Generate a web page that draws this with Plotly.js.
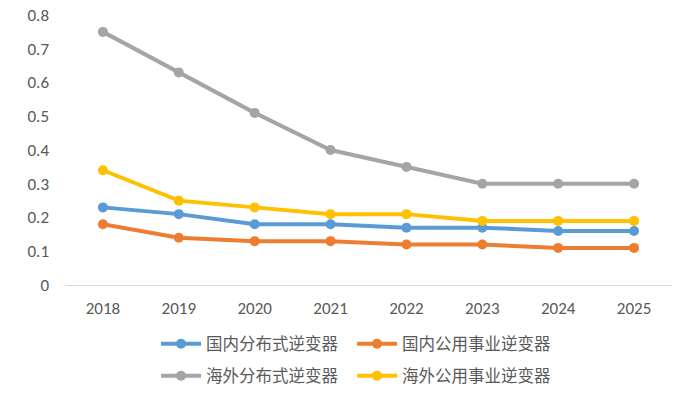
<!DOCTYPE html>
<html>
<head>
<meta charset="utf-8">
<script src="https://cdn.plot.ly/plotly-3.0.1.min.js"></script>
<style>html,body{margin:0;padding:0;background:#fff;}#chart{width:700px;height:397px;}</style>
</head>
<body>
<div id="chart"></div>
<script>
const years = ['2018','2019','2020','2021','2022','2023','2024','2025'];
const domesticDistributed = [0.23, 0.21, 0.18, 0.18, 0.17, 0.17, 0.16, 0.16];
const domesticUtility = [0.18, 0.14, 0.13, 0.13, 0.12, 0.12, 0.11, 0.11];
const overseasDistributed = [0.75, 0.63, 0.51, 0.40, 0.35, 0.30, 0.30, 0.30];
const overseasUtility = [0.34, 0.25, 0.23, 0.21, 0.21, 0.19, 0.19, 0.19];
const names = ['国内分布式逆变器','国内公用事业逆变器','海外分布式逆变器','海外公用事业逆变器'];
const yTicks = [0, 0.1, 0.2, 0.3, 0.4, 0.5, 0.6, 0.7, 0.8];
const yTickText = ['0','0.1','0.2','0.3','0.4','0.5','0.6','0.7','0.8'];

function tr(y, name, color, legend) {
  return {x: years, y: y, name: name, type: 'scatter', mode: 'lines+markers',
    line: {color: color, width: 4}, marker: {color: color, size: 10}, legend: legend};
}
const data = [
  tr(domesticDistributed, names[0], '#5B9BD5', 'legend'),
  tr(domesticUtility, names[1], '#ED7D31', 'legend2'),
  tr(overseasDistributed, names[2], '#A5A5A5', 'legend3'),
  tr(overseasUtility, names[3], '#FFC000', 'legend4')
];
const legendFont = {family: '"Noto Sans CJK SC", sans-serif', size: 16.5, color: '#595959'};
function leg(x, y) {
  return {orientation: 'h', x: x, xanchor: 'left', y: y, yanchor: 'middle',
    itemwidth: 40, font: legendFont, bgcolor: 'rgba(0,0,0,0)'};
}
const layout = {
  width: 700, height: 397,
  margin: {l: 65, r: 28, t: 15, b: 112, autoexpand: false},
  paper_bgcolor: '#fff', plot_bgcolor: '#fff',
  font: {family: 'Carlito, "Liberation Sans", sans-serif', color: '#595959', size: 17},
  xaxis: {type: 'category', range: [-0.5, 7.5], showgrid: false, zeroline: false, automargin: false,
    showline: true, linecolor: '#D9D9D9', linewidth: 1, ticks: '', ticklabelstandoff: 8,
    tickfont: {size: 17, color: '#595959'}},
  yaxis: {range: [0, 0.8], tickvals: yTicks, ticktext: yTickText, showgrid: false, automargin: false,
    zeroline: false, showline: false, ticks: '', ticklabelstandoff: 15,
    tickfont: {size: 17, color: '#595959'}},
  legend: leg(0.15, -0.2185),
  legend2: leg(0.473, -0.2185),
  legend3: leg(0.15, -0.337),
  legend4: leg(0.473, -0.337),
  showlegend: true
};
Plotly.newPlot('chart', data, layout, {displayModeBar: false, staticPlot: true});
</script>
</body>
</html>
